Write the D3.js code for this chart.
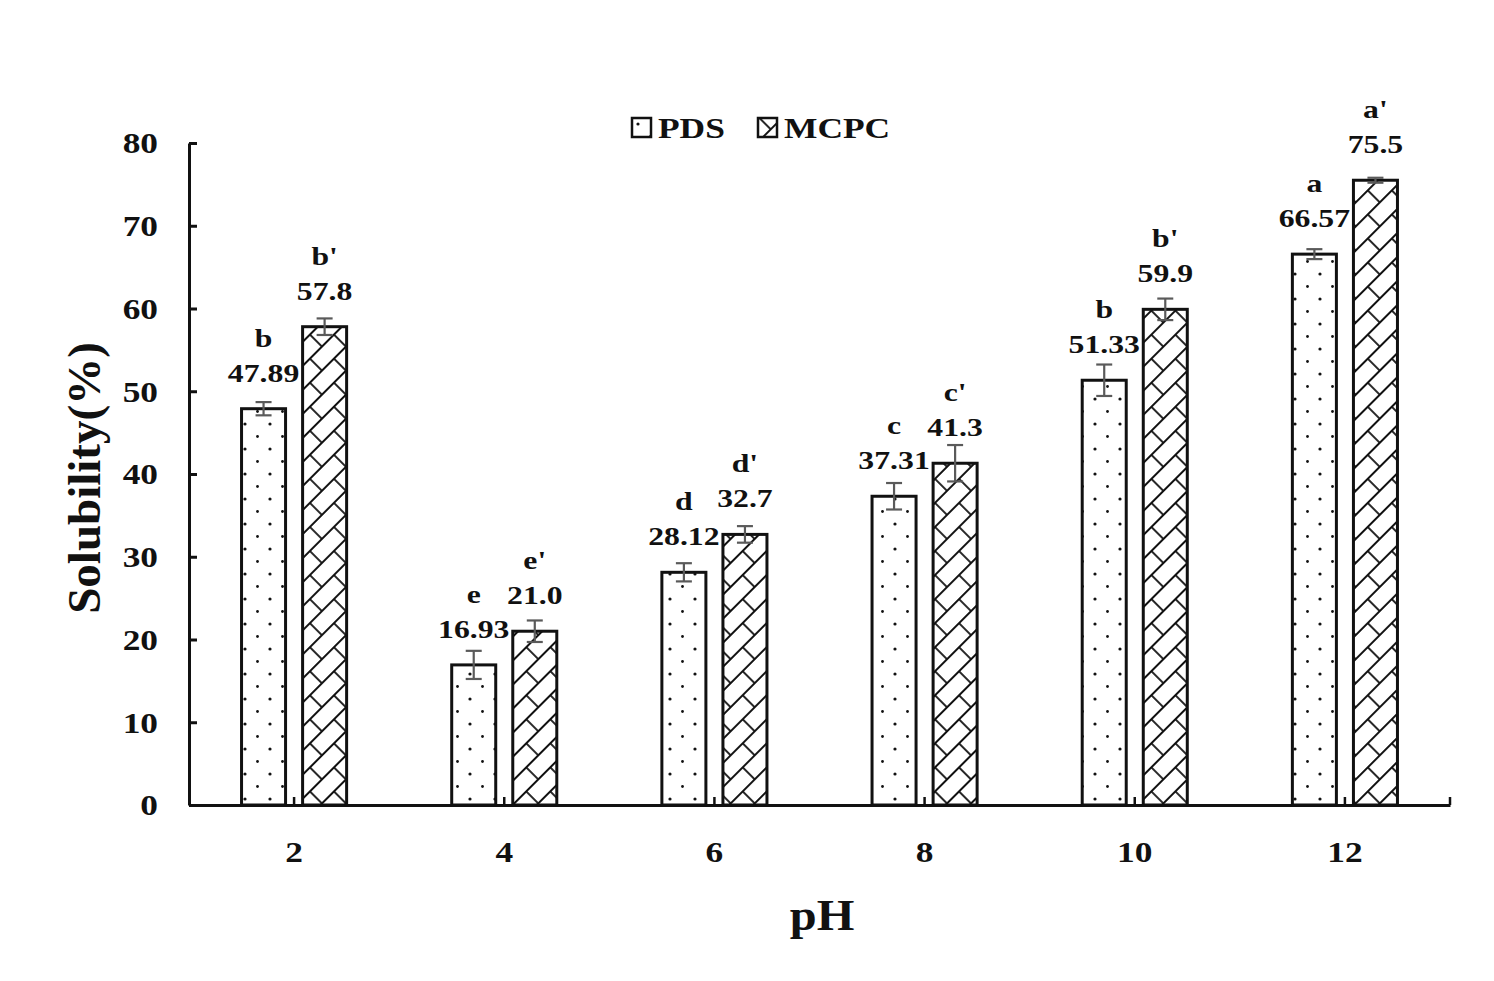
<!DOCTYPE html>
<html>
<head>
<meta charset="utf-8">
<script src="https://cdn.jsdelivr.net/npm/d3@7"></script>
<style>
  body { margin: 0; background: #fff; }
  text { font-family: "Liberation Serif", "Times New Roman", serif; font-weight: bold; fill: #111; }
</style>
</head>
<body>
<div id="chart"></div>
<script>
// data
var phLevels = ["2", "4", "6", "8", "10", "12"];
var seriesNames = ["PDS", "MCPC"];
var pdsValues = [47.89, 16.93, 28.12, 37.31, 51.33, 66.57];
var mcpcValues = [57.8, 21.0, 32.7, 41.3, 59.9, 75.5];
var pdsErrors = [0.8, 1.7, 1.1, 1.6, 1.9, 0.6];
var mcpcErrors = [1.0, 1.3, 1.0, 2.2, 1.3, 0.3];
var pdsLetters = ["b", "e", "d", "c", "b", "a"];
var mcpcLetters = ["b'", "e'", "d'", "c'", "b'", "a'"];
var pdsLabels = ["47.89", "16.93", "28.12", "37.31", "51.33", "66.57"];
var mcpcLabels = ["57.8", "21.0", "32.7", "41.3", "59.9", "75.5"];
var yTicks = [0, 10, 20, 30, 40, 50, 60, 70, 80];

var W = 1494, H = 981;
var sx = 1.22; // the glyphs in the figure are drawn wide

var svg = d3.select("#chart")
    .append("svg")
    .attr("width", W)
    .attr("height", H);

var defs = svg.append("defs");

// dotted fill for PDS
var dots = defs.append("pattern")
    .attr("id", "dots")
    .attr("patternUnits", "userSpaceOnUse")
    .attr("width", 25)
    .attr("height", 25);
dots.append("rect").attr("width", 25).attr("height", 25).attr("fill", "#fff");
dots.append("circle").attr("cx", 6).attr("cy", 6).attr("r", 1.6).attr("fill", "#111");
dots.append("circle").attr("cx", 18.5).attr("cy", 18.5).attr("r", 1.4).attr("fill", "#111");

// woven brick hatch for MCPC (long bricks running up to the right)
var weave = defs.append("pattern")
    .attr("id", "weave")
    .attr("patternUnits", "userSpaceOnUse")
    .attr("width", 34)
    .attr("height", 34)
    .attr("patternTransform", "rotate(-45)");
weave.append("rect").attr("width", 34).attr("height", 34).attr("fill", "#fff");
weave.append("path")
    .attr("d", "M0,0H34M0,17H34M0,34H34M1,0V17M18,17V34")
    .attr("stroke", "#111")
    .attr("stroke-width", 1.8)
    .attr("fill", "none");

var margin = {top: 143, right: 44, bottom: 176, left: 189};
var width = W - margin.left - margin.right;
var height = H - margin.top - margin.bottom;

var g = svg.append("g")
    .attr("transform", "translate(" + margin.left + "," + margin.top + ")");

var x = d3.scaleBand()
    .domain(phLevels)
    .range([0, width]);

var xs = d3.scaleBand()
    .domain(seriesNames)
    .range([0, x.bandwidth()])
    .paddingInner(0.23)
    .paddingOuter(0.836);

var y = d3.scaleLinear()
    .domain([0, 80])
    .range([height, 0]);

var rows = phLevels.map(function (p, i) {
    return [
        {ph: p, s: "PDS", v: pdsValues[i], e: pdsErrors[i], letter: pdsLetters[i], label: pdsLabels[i], fill: "url(#dots)"},
        {ph: p, s: "MCPC", v: mcpcValues[i], e: mcpcErrors[i], letter: mcpcLetters[i], label: mcpcLabels[i], fill: "url(#weave)"}
    ];
});
var marks = [].concat.apply([], rows);

function cx(d) { return x(d.ph) + xs(d.s) + xs.bandwidth() / 2; }

// bars
g.selectAll("rect.bar")
    .data(marks)
    .enter()
    .append("rect")
    .attr("class", "bar")
    .attr("x", function (d) { return x(d.ph) + xs(d.s) + 1.5; })
    .attr("y", function (d) { return y(d.v); })
    .attr("width", xs.bandwidth() - 3)
    .attr("height", function (d) { return height - y(d.v); })
    .attr("fill", function (d) { return d.fill; })
    .attr("stroke", "#111")
    .attr("stroke-width", 3);

// error bars
var err = g.selectAll("g.err")
    .data(marks)
    .enter()
    .append("g")
    .attr("class", "err")
    .attr("stroke", "#5a5a5a")
    .attr("stroke-width", 2.2);
err.append("line")
    .attr("x1", cx).attr("x2", cx)
    .attr("y1", function (d) { return y(d.v + d.e); })
    .attr("y2", function (d) { return y(d.v - d.e); });
err.append("line")
    .attr("x1", function (d) { return cx(d) - 8; })
    .attr("x2", function (d) { return cx(d) + 8; })
    .attr("y1", function (d) { return y(d.v + d.e); })
    .attr("y2", function (d) { return y(d.v + d.e); });
err.append("line")
    .attr("x1", function (d) { return cx(d) - 8; })
    .attr("x2", function (d) { return cx(d) + 8; })
    .attr("y1", function (d) { return y(d.v - d.e); })
    .attr("y2", function (d) { return y(d.v - d.e); });

// value labels and significance letters, placed above each bar top
g.selectAll("text.val")
    .data(marks)
    .enter()
    .append("text")
    .attr("class", "val")
    .attr("text-anchor", "middle")
    .style("font-size", "26px")
    .attr("transform", function (d) {
        return "translate(" + cx(d) + "," + (y(d.v) - 27) + ") scale(" + sx + ",1)";
    })
    .text(function (d) { return d.label; });

g.selectAll("text.letter")
    .data(marks)
    .enter()
    .append("text")
    .attr("class", "letter")
    .attr("text-anchor", "middle")
    .style("font-size", "26px")
    .attr("transform", function (d) {
        return "translate(" + cx(d) + "," + (y(d.v) - 62) + ") scale(" + sx + ",1)";
    })
    .text(function (d) { return d.letter; });

// axes
var yAxis = d3.axisLeft(y)
    .tickValues(yTicks)
    .tickSizeInner(-8)
    .tickSizeOuter(0)
    .tickFormat(d3.format("d"));

var yg = g.append("g").call(yAxis);
yg.select(".domain").attr("stroke", "#111").attr("stroke-width", 3);
yg.selectAll(".tick line").attr("stroke", "#111").attr("stroke-width", 3);
yg.selectAll(".tick text")
    .attr("x", -31 / sx)
    .attr("dy", "0.34em")
    .attr("transform", "scale(" + sx + ",1)")
    .style("font-size", "29px")
    .style("font-family", null);

var xAxis = d3.axisBottom(x)
    .tickSizeInner(-8)
    .tickSizeOuter(0);

var xg = g.append("g")
    .attr("transform", "translate(0," + height + ")")
    .call(xAxis);
xg.select(".domain").attr("stroke", "#111").attr("stroke-width", 3);
xg.selectAll(".tick line").attr("stroke", "#111").attr("stroke-width", 2.5);
xg.selectAll(".tick text")
    .attr("y", 57)
    .attr("dy", 0)
    .attr("transform", "scale(" + sx + ",1)")
    .style("font-size", "29px")
    .style("font-family", null);

// end tick on the category axis
g.append("line")
    .attr("x1", x.range()[1]).attr("x2", x.range()[1])
    .attr("y1", height).attr("y2", height - 8)
    .attr("stroke", "#111")
    .attr("stroke-width", 2.5);

// axis titles
svg.append("text")
    .attr("text-anchor", "middle")
    .style("font-size", "44px")
    .attr("transform", "translate(822,930) scale(1.1,1)")
    .text("pH");

svg.append("text")
    .attr("text-anchor", "middle")
    .style("font-size", "47px")
    .attr("transform", "translate(100,478) rotate(-90)")
    .text("Solubility(%)");

// legend
var legendX = [632, 758];
var legend = svg.selectAll("g.legend")
    .data(seriesNames)
    .enter()
    .append("g")
    .attr("class", "legend")
    .attr("transform", function (d, i) { return "translate(" + legendX[i] + ",118)"; });
legend.append("rect")
    .attr("width", 19)
    .attr("height", 19)
    .attr("fill", function (d, i) { return i === 0 ? "url(#dots)" : "url(#weave)"; })
    .attr("stroke", "#111")
    .attr("stroke-width", 2.5);
legend.append("text")
    .attr("transform", "translate(26,20) scale(1.18,1)")
    .style("font-size", "30px")
    .text(function (d) { return d; });
</script>
</body>
</html>
